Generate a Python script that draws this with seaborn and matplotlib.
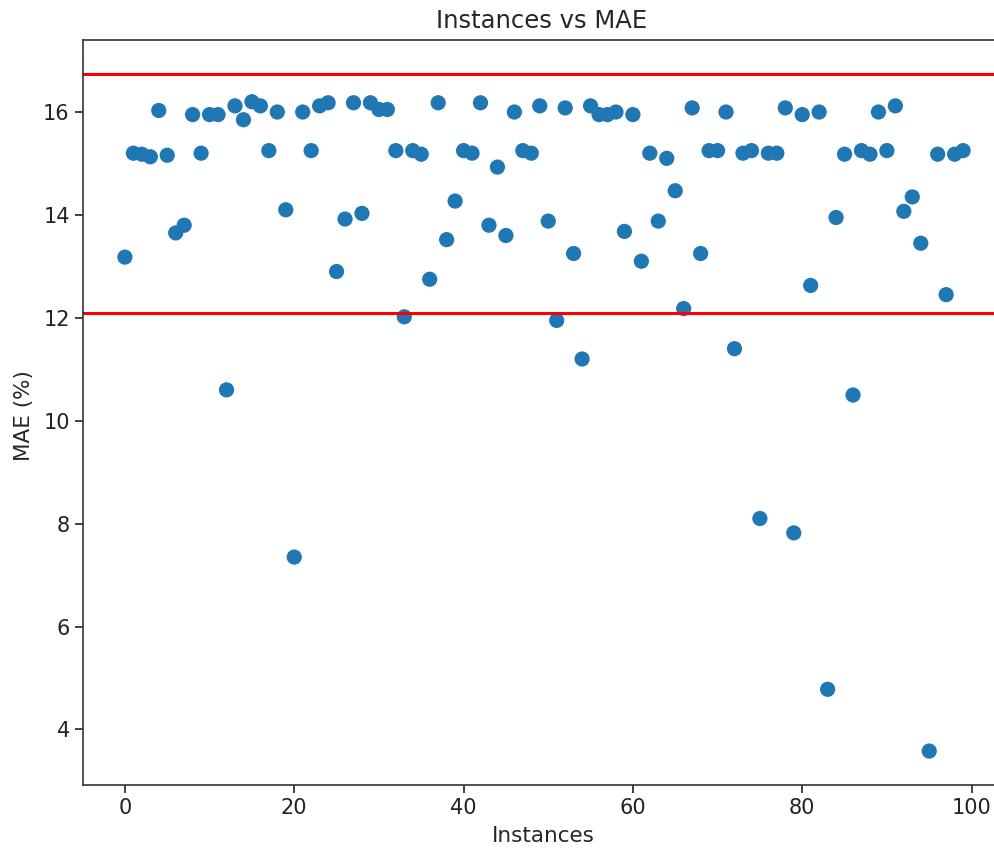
import matplotlib
matplotlib.use("Agg")
import matplotlib.pyplot as plt
import seaborn as sns
import numpy as np
import pandas as pd

instances = list(range(100))
mae = [13.18, 15.2, 15.18, 15.13, 16.03, 15.16, 13.65, 13.8, 15.95, 15.2,
       15.95, 15.95, 10.6, 16.12, 15.85, 16.2, 16.12, 15.25, 16.0, 14.1,
       7.35, 16.0, 15.25, 16.12, 16.18, 12.9, 13.92, 16.18, 14.03, 16.18,
       16.05, 16.05, 15.25, 12.02, 15.25, 15.18, 12.75, 16.18, 13.52, 14.27,
       15.25, 15.2, 16.18, 13.8, 14.93, 13.6, 16.0, 15.25, 15.2, 16.12,
       13.88, 11.95, 16.08, 13.25, 11.2, 16.12, 15.95, 15.95, 16.0, 13.68,
       15.95, 13.1, 15.2, 13.88, 15.1, 14.47, 12.18, 16.08, 13.25, 15.25,
       15.25, 16.0, 11.4, 15.2, 15.25, 8.1, 15.2, 15.2, 16.08, 7.82,
       15.95, 12.63, 16.0, 4.78, 13.95, 15.18, 10.5, 15.25, 15.18, 16.0,
       15.25, 16.12, 14.07, 14.35, 13.45, 3.58, 15.18, 12.45, 15.18, 15.25]
upper_line = 16.74
lower_line = 12.1

df = pd.DataFrame({"Instances": instances, "MAE": mae})

sns.set_style("white")
plt.rcParams['font.family'] = ['DejaVu Sans']
plt.rcParams['font.size'] = 15

W, H = 995, 848
fig = plt.figure(figsize=(W / 100, H / 100), dpi=100)
# axes extends beyond the right edge of the figure (reference is cropped there)
left, right, top, bottom = 83, 1005, 40, 785
ax = fig.add_axes([left / W, (H - bottom) / H, (right - left) / W, (bottom - top) / H])
sns.scatterplot(data=df, x="Instances", y="MAE", ax=ax, s=120, color="#1f77b4",
                edgecolor="none", linewidth=0)
ax.axhline(upper_line, color="red", linewidth=2.2)
ax.axhline(lower_line, color="red", linewidth=2.2)
ax.set_xlim(-4.95, 103.95)
ax.set_ylim(2.92, 17.4)
ax.set_xticks([0, 20, 40, 60, 80, 100])
ax.set_yticks([4, 6, 8, 10, 12, 14, 16])
ax.set_title("Instances vs MAE", fontsize=17.5, pad=9, x=(542 - left) / (right - left))
ax.set_xlabel("Instances", fontsize=15.5)
ax.xaxis.set_label_coords((543 - left) / (right - left), -0.055)
ax.set_ylabel("MAE (%)", fontsize=15.5)
ax.yaxis.set_label_coords(-0.053, (785 - 416) / (bottom - top))
ax.tick_params(axis="both", direction="out", length=6, width=1.2, labelsize=15,
               left=True, bottom=True, colors="#222222")
for sp in ax.spines.values():
    sp.set_color("#333333")
    sp.set_linewidth(1.2)
fig.savefig("out.png", dpi=100)
